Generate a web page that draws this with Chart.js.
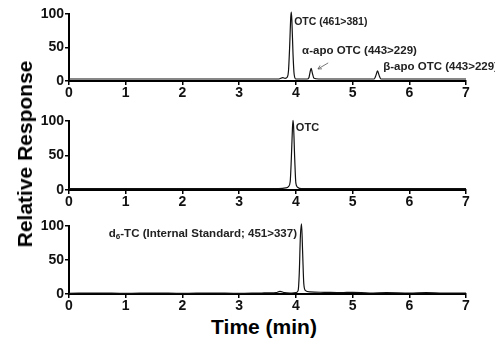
<!DOCTYPE html>
<html>
<head>
<meta charset="utf-8">
<script src="https://cdn.jsdelivr.net/npm/chart.js@4.4.1/dist/chart.umd.min.js"></script>
<style>
body{margin:0;background:#fff;width:495px;height:341px;overflow:hidden;position:relative;font-family:"Liberation Sans",Arial,sans-serif}
.panel{position:absolute;left:0;width:495px}
.ylab{position:absolute;left:25px;top:154px;transform:translate(-50%,-50%) rotate(-90deg);font-weight:bold;font-size:21px;white-space:nowrap}
.xlab{position:absolute;left:264px;top:327px;transform:translate(-50%,-50%);font-weight:bold;font-size:21px;white-space:nowrap}
</style>
</head>
<body>
<div class="panel" style="top:0;height:100px"><canvas id="c1" width="495" height="100"></canvas></div>
<div class="panel" style="top:100px;height:110px"><canvas id="c2" width="495" height="110"></canvas></div>
<div class="panel" style="top:210px;height:100px"><canvas id="c3" width="495" height="100"></canvas></div>
<div class="ylab">Relative Response</div>
<div class="xlab">Time (min)</div>
<script>
// retention time (min) and relative response for each trace
const time1 = [0, 3.70, 3.77, 3.81, 3.85, 3.87, 3.89, 3.91, 3.92, 3.93, 3.95, 3.97, 4.0, 4.2, 4.23, 4.25, 4.27, 4.29, 4.32, 4.4, 5.38, 5.41, 5.44, 5.47, 5.5, 7];
const resp1 = [3, 3, 5, 4, 6, 15, 50, 95, 103, 90, 40, 10, 3, 3, 5, 13, 19, 12, 4, 3, 3, 8, 15, 8, 3, 3];

const time2 = [0, 3.7, 3.82, 3.87, 3.9, 3.92, 3.94, 3.95, 3.96, 3.98, 4.0, 4.03, 4.1, 7];
const resp2 = [2, 2, 3, 5, 12, 45, 90, 101, 92, 45, 10, 4, 2, 2];

const time3 = [0, 0.5, 1.0, 1.5, 2.0, 2.5, 3.0, 3.4, 3.65, 3.72, 3.8, 3.9, 4.0, 4.04, 4.06, 4.08, 4.10, 4.12, 4.14, 4.17, 4.25, 4.5, 4.8, 5.0, 5.3, 5.6, 6.0, 6.3, 6.6, 7.0];
const resp3 = [1, 1.5, 1, 1.5, 1, 1.5, 1, 1.5, 2, 4, 2, 1.5, 2, 5, 30, 85, 103, 60, 15, 5, 3, 2.5, 2, 2.5, 1.5, 2, 1.5, 2, 1.5, 1.5];

const xTicks = [0, 1, 2, 3, 4, 5, 6, 7];
const yTicks = [0, 50, 100];

// peak labels, anchored in data units
const labels1 = [
  {parts: [["OTC (461>381)", 0]], t: 3.97, v: 88, size: 10.5},
  {parts: [["α-apo OTC (443>229)", 0]], t: 4.11, v: 45, size: 11.5},
  {parts: [["β-apo OTC (443>229)", 0]], t: 5.54, v: 21, size: 11.5}
];
const labels2 = [{parts: [["OTC", 0]], t: 4.0, v: 90, size: 11}];
const labels3 = [{parts: [["d", 0], ["6", 1], ["-TC (Internal Standard; 451>337)", 0]], t: 4.02, v: 88, size: 11.5, right: true}];
const arrows1 = [{from: [4.57, 27], to: [4.39, 18]}];

const peakLabels = {
  id: 'peakLabels',
  afterDatasetsDraw(chart, args, opts) {
    const ctx = chart.ctx, xs = chart.scales.x, ys = chart.scales.y;
    ctx.save();
    ctx.fillStyle = '#222';
    ctx.textBaseline = 'middle';
    (opts.items || []).forEach(l => {
      const font = s => 'bold ' + s + 'px "Liberation Sans", Arial, sans-serif';
      let w = 0;
      l.parts.forEach(p => { ctx.font = font(p[1] ? l.size * 0.7 : l.size); w += ctx.measureText(p[0]).width; });
      let x = xs.getPixelForValue(l.t);
      if (l.right) x -= w;
      const y = ys.getPixelForValue(l.v);
      l.parts.forEach(p => {
        ctx.font = font(p[1] ? l.size * 0.7 : l.size);
        ctx.textAlign = 'left';
        ctx.fillText(p[0], x, p[1] ? y + 3 : y);
        x += ctx.measureText(p[0]).width;
      });
    });
    (opts.arrows || []).forEach(a => {
      const x1 = xs.getPixelForValue(a.from[0]), y1 = ys.getPixelForValue(a.from[1]);
      const x2 = xs.getPixelForValue(a.to[0]), y2 = ys.getPixelForValue(a.to[1]);
      ctx.strokeStyle = '#555';
      ctx.lineWidth = 0.8;
      ctx.beginPath(); ctx.moveTo(x1, y1); ctx.lineTo(x2, y2); ctx.stroke();
      const ang = Math.atan2(y2 - y1, x2 - x1);
      ctx.beginPath();
      ctx.moveTo(x2 - 4 * Math.cos(ang - 0.5), y2 - 4 * Math.sin(ang - 0.5));
      ctx.lineTo(x2, y2);
      ctx.lineTo(x2 - 4 * Math.cos(ang + 0.5), y2 - 4 * Math.sin(ang + 0.5));
      ctx.stroke();
    });
    ctx.restore();
  }
};

function makePanel(id, times, resp, padTop, xHeight, items, arrows) {
  const tickFont = {family: '"Liberation Sans", Arial, sans-serif', size: 14, weight: 'bold'};
  return new Chart(document.getElementById(id), {
    type: 'line',
    data: {
      datasets: [{
        data: times.map((t, i) => ({x: t, y: resp[i]})),
        borderColor: '#111',
        borderWidth: 1.2,
        pointRadius: 0,
        cubicInterpolationMode: 'monotone',
        clip: false
      }]
    },
    options: {
      responsive: false,
      animation: false,
      devicePixelRatio: 1,
      layout: {padding: {top: padTop, right: 29, left: 0, bottom: 0}},
      plugins: {legend: {display: false}, tooltip: {enabled: false}, peakLabels: {items: items, arrows: arrows}},
      scales: {
        x: {
          type: 'linear', min: 0, max: 7,
          afterBuildTicks: s => { s.ticks = xTicks.map(v => ({value: v})); },
          afterFit: s => { s.height = xHeight; },
          grid: {drawOnChartArea: false, tickLength: 4, color: '#000', lineWidth: 1.5},
          border: {color: '#000', width: 2},
          ticks: {color: '#111', font: tickFont, padding: 0, maxRotation: 0}
        },
        y: {
          min: 0, max: 100,
          afterBuildTicks: s => { s.ticks = yTicks.map(v => ({value: v})); },
          afterFit: s => { s.width = 69; },
          grid: {drawOnChartArea: false, tickLength: 4, color: '#000', lineWidth: 1.5},
          border: {color: '#000', width: 2},
          ticks: {color: '#111', font: tickFont, padding: 1}
        }
      }
    },
    plugins: [peakLabels]
  });
}

makePanel('c1', time1, resp1, 14, 19, labels1, arrows1);
makePanel('c2', time2, resp2, 21, 20, labels2, []);
makePanel('c3', time3, resp3, 16, 16, labels3, []);
</script>
</body>
</html>
